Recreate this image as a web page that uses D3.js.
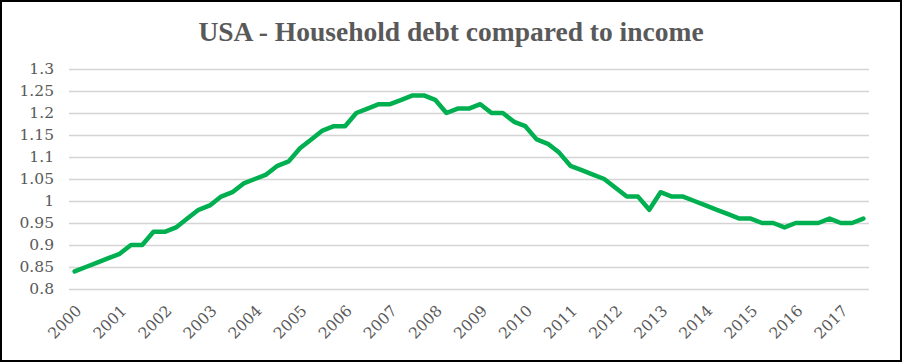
<!DOCTYPE html>
<html>
<head>
<meta charset="utf-8">
<script src="https://cdn.jsdelivr.net/npm/d3@7"></script>
<style>
  html, body { margin: 0; padding: 0; background: #fff; }
  svg { display: block; }
</style>
</head>
<body>
<svg width="902" height="362"></svg>
<script>
// Quarterly ratio, 2000 Q1 .. 2017 Q3
const years = d3.range(2000, 2018);
const ratio = [
  0.84, 0.85, 0.86, 0.87, 0.88, 0.90, 0.90, 0.93, 0.93, 0.94,
  0.96, 0.98, 0.99, 1.01, 1.02, 1.04, 1.05, 1.06, 1.08, 1.09,
  1.12, 1.14, 1.16, 1.17, 1.17, 1.20, 1.21, 1.22, 1.22, 1.23,
  1.24, 1.24, 1.23, 1.20, 1.21, 1.21, 1.22, 1.20, 1.20, 1.18,
  1.17, 1.14, 1.13, 1.11, 1.08, 1.07, 1.06, 1.05, 1.03, 1.01,
  1.01, 0.98, 1.02, 1.01, 1.01, 1.00, 0.99, 0.98, 0.97, 0.96,
  0.96, 0.95, 0.95, 0.94, 0.95, 0.95, 0.95, 0.96, 0.95, 0.95,
  0.96
];
const yTicks = [0.8, 0.85, 0.9, 0.95, 1, 1.05, 1.1, 1.15, 1.2, 1.25, 1.3];
const title = "USA - Household debt compared to income";

const width = 902, height = 362;
const margin = { top: 69, right: 33, bottom: 73, left: 69 };

const svg = d3.select("svg");

// frame
svg.append("rect")
  .attr("x", 1).attr("y", 1)
  .attr("width", width - 2).attr("height", height - 2)
  .attr("fill", "#fff")
  .attr("stroke", "#000")
  .attr("stroke-width", 2);

svg.append("text")
  .attr("x", 451).attr("y", 41)
  .attr("text-anchor", "middle")
  .attr("font-family", "'Liberation Serif', serif")
  .attr("font-weight", "bold")
  .attr("font-size", 27.5)
  .attr("fill", "#595959")
  .text(title);

const x = d3.scaleBand()
  .domain(d3.range(ratio.length))
  .range([margin.left, width - margin.right]);

const y = d3.scaleLinear()
  .domain([0.8, 1.3])
  .range([height - margin.bottom, margin.top]);

// gridlines
svg.append("g")
  .selectAll("line")
  .data(yTicks)
  .join("line")
  .attr("x1", margin.left)
  .attr("x2", width - margin.right)
  .attr("y1", d => Math.round(y(d)) + 0.5)
  .attr("y2", d => Math.round(y(d)) + 0.5)
  .attr("stroke", "#d4d4d4")
  .attr("stroke-width", 1.5);

// y axis labels
const yAxis = svg.append("g")
  .attr("transform", `translate(${margin.left - 15},0)`)
  .call(d3.axisLeft(y).tickValues(yTicks).tickSize(0).tickPadding(0).tickFormat(d => String(+d.toFixed(2))));
yAxis.select(".domain").remove();
yAxis.selectAll("text")
  .attr("font-family", "'DejaVu Serif', serif")
  .attr("font-size", 15.5)
  .attr("fill", "#595959");

// x axis labels, one per year
const xAxis = svg.append("g")
  .attr("transform", `translate(0,${height - margin.bottom})`)
  .call(d3.axisBottom(x)
    .tickValues(d3.range(0, ratio.length, 4))
    .tickSize(0)
    .tickFormat(i => years[i / 4]));
xAxis.select(".domain").remove();
xAxis.selectAll("text")
  .attr("font-family", "'DejaVu Serif', serif")
  .attr("font-size", 15.5)
  .attr("fill", "#595959")
  .attr("text-anchor", "end")
  .attr("transform", "translate(4,19) rotate(-45)")
  .attr("dy", "0.35em")
  .attr("y", 0);

const line = d3.line()
  .x((d, i) => x(i) + x.bandwidth() / 2)
  .y(d => y(d));

svg.append("path")
  .datum(ratio)
  .attr("fill", "none")
  .attr("stroke", "#00b050")
  .attr("stroke-width", 4.5)
  .attr("stroke-linejoin", "round")
  .attr("stroke-linecap", "round")
  .attr("d", line);
</script>
</body>
</html>
